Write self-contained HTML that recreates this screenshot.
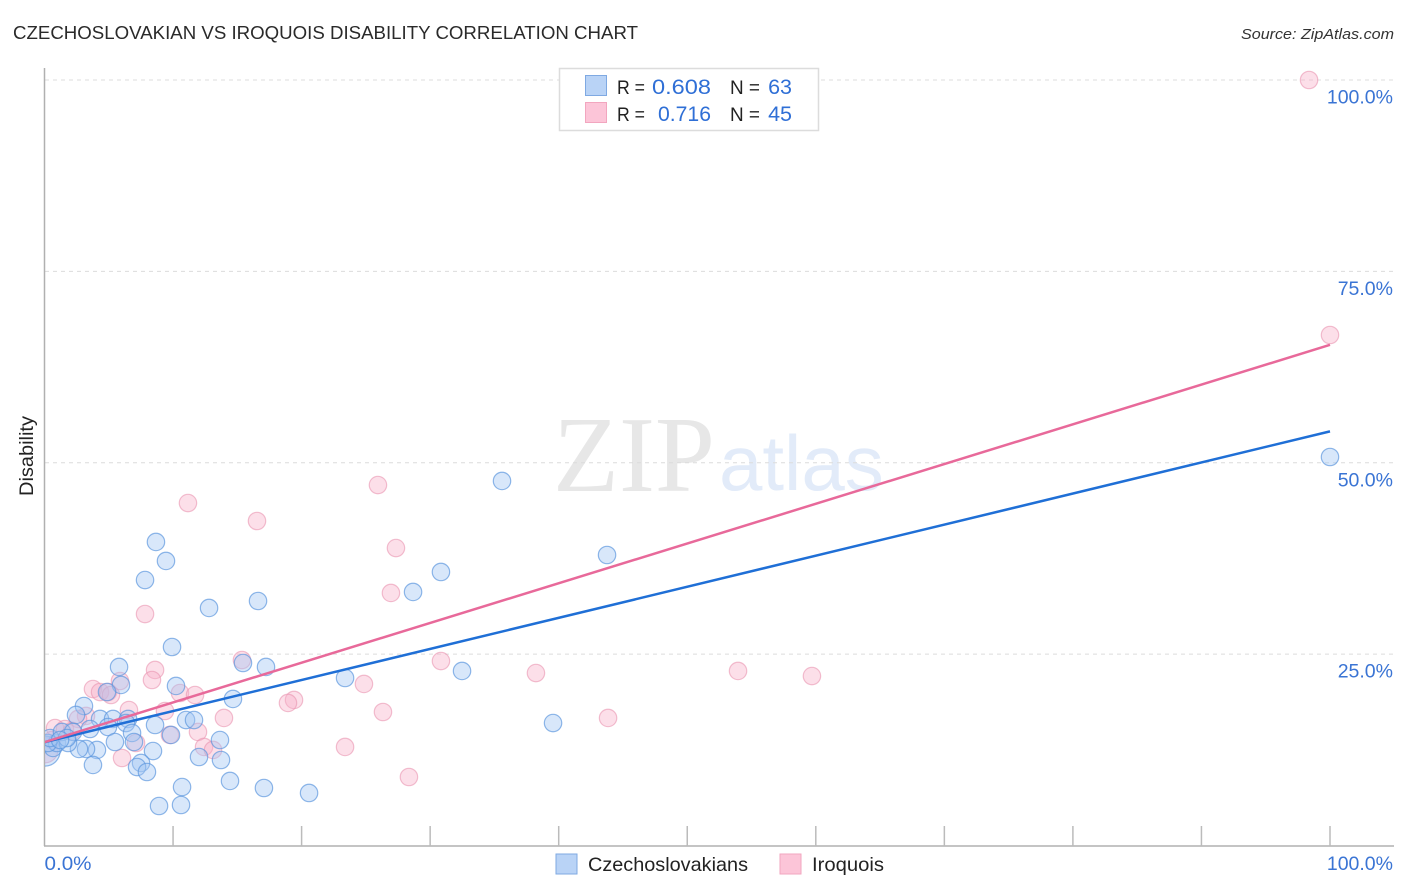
<!DOCTYPE html>
<html>
<head>
<meta charset="utf-8">
<title>Czechoslovakian vs Iroquois Disability Correlation Chart</title>
<style>
html,body{margin:0;padding:0;background:#fff;}
svg{display:block;}
text{font-family:"Liberation Sans",sans-serif;}
</style>
</head>
<body>
<svg id="chart" width="1406" height="892" viewBox="0 0 1406 892" xmlns="http://www.w3.org/2000/svg">
  <defs><clipPath id="plot-clip"><rect x="45" y="60" width="1361" height="786"/></clipPath></defs>
  <rect width="1406" height="892" fill="#fff"/>
  <text x="553" y="491" font-size="108" style="font-family:'Liberation Serif',serif" fill="#e7e7e7">ZIP</text>
  <text x="719" y="490" font-size="78" fill="#e2ebf9">atlas</text>
  <g id="grid"></g>
  <g id="axes"></g>
  <g id="iroquois-points" clip-path="url(#plot-clip)"></g>
  <g id="czech-points" clip-path="url(#plot-clip)"></g>
  <g id="trend-lines" clip-path="url(#plot-clip)"></g>
  <g id="labels"></g>

  <text x="13" y="39" font-size="18.5" fill="#2a2a2a" textLength="625" lengthAdjust="spacingAndGlyphs">CZECHOSLOVAKIAN VS IROQUOIS DISABILITY CORRELATION CHART</text>
  <text x="1394" y="39" font-size="15" font-style="italic" fill="#333" text-anchor="end" textLength="153" lengthAdjust="spacingAndGlyphs">Source: ZipAtlas.com</text>
  <text transform="translate(33,456) rotate(-90)" font-size="19.5" fill="#222" text-anchor="middle" textLength="80" lengthAdjust="spacingAndGlyphs">Disability</text>

  <g>
    <rect x="559.5" y="68.5" width="259" height="62" fill="#fff" stroke="#dcdcdc" stroke-width="1.5"/>
    <rect x="585.5" y="75.5" width="21" height="20" fill="#b9d3f6" stroke="#7fa9e2"/>
    <rect x="585.5" y="102.5" width="21" height="20" fill="#fcc5d8" stroke="#f2a6bf"/>
    <text x="617" y="94" font-size="19" fill="#222" textLength="28" lengthAdjust="spacingAndGlyphs">R =</text>
    <text x="652" y="94" font-size="21.5" fill="#2f6fd6" textLength="59" lengthAdjust="spacingAndGlyphs">0.608</text>
    <text x="730" y="94" font-size="19" fill="#222" textLength="30" lengthAdjust="spacingAndGlyphs">N =</text>
    <text x="792" y="94" font-size="21.5" fill="#2f6fd6" text-anchor="end">63</text>
    <text x="617" y="121" font-size="19" fill="#222" textLength="28" lengthAdjust="spacingAndGlyphs">R =</text>
    <text x="658" y="121" font-size="21.5" fill="#2f6fd6" textLength="53" lengthAdjust="spacingAndGlyphs">0.716</text>
    <text x="730" y="121" font-size="19" fill="#222" textLength="30" lengthAdjust="spacingAndGlyphs">N =</text>
    <text x="792" y="121" font-size="21.5" fill="#2f6fd6" text-anchor="end">45</text>
  </g>

  <g>
    <g>
      <rect x="556" y="854" width="21" height="20" fill="#b9d3f6" stroke="#7fa9e2"/>
      <text x="588" y="871" font-size="19.5" fill="#222" textLength="160" lengthAdjust="spacingAndGlyphs">Czechoslovakians</text>
    </g>
    <g>
      <rect x="780" y="854" width="21" height="20" fill="#fcc5d8" stroke="#f2a6bf"/>
      <text x="812" y="871" font-size="19.5" fill="#222" textLength="72" lengthAdjust="spacingAndGlyphs">Iroquois</text>
    </g>
  </g>
</svg>
<script>
const czechX = [100,35.59,43.76,30.84,28.67,8.67,9.45,7.82,12.80,16.61,9.92,5.80,5.95,4.86,10.23,15.44,17.23,23.38,32.48,39.56,14.66,3.07,2.45,4.32,5.33,6.50,6.34,8.60,11.01,11.63,3.54,4.94,6.81,5.48,6.96,9.84,13.65,8.44,12.02,13.73,4.08,3.23,2.68,3.77,7.51,7.20,7.97,14.43,17.07,20.58,10.70,10.62,8.91,0.04,0.66,0.97,0.27,0.43,1.83,1.36,2.22,1.75,1.21];
const czechY = [50.75,47.62,37.95,35.73,33.12,39.65,37.17,34.68,31.03,31.94,25.93,23.32,20.97,20.05,20.84,23.84,23.32,21.88,22.80,16.00,19.14,18.22,17.05,16.53,16.53,16.53,16.00,15.74,16.39,16.39,15.22,15.48,14.70,13.52,13.52,14.44,13.78,12.34,11.56,11.17,12.48,12.61,12.61,10.52,10.78,10.25,9.60,8.43,7.51,6.86,7.64,5.29,5.16,12.34,12.74,13.39,13.39,14.04,13.39,14.83,14.83,14.04,13.78];
const czechWeight = [1,1,1,1,1,1,1,1,1,1,1,1,1,1,1,1,1,1,1,1,1,1,1,1,1,1,1,1,1,1,1,1,1,1,1,1,1,1,1,1,1,1,1,1,1,1,1,1,1,1,1,1,1,3,1,1,1,1,1,1,1,1,1];
const iroquoisX = [98.37,100,25.94,11.16,16.53,27.34,26.95,7.82,15.36,30.84,38.23,53.95,59.70,8.60,8.36,5.87,3.77,4.32,4.94,5.17,10.54,11.71,24.85,19.41,18.94,26.33,43.84,13.96,9.37,6.57,3.23,2.61,11.94,9.76,12.41,13.11,23.38,28.35,6.03,7.12,0.82,1.59,2.14,0.04,0.58];
const iroquoisY = [100,66.69,47.09,44.74,42.39,38.86,32.99,30.24,24.23,24.10,22.53,22.80,22.14,22.93,21.62,21.49,20.44,20.05,20.05,19.66,19.92,19.66,21.10,19.01,18.62,17.44,16.66,16.66,17.57,17.70,16.92,16.53,14.83,14.44,12.87,12.48,12.87,8.95,11.43,13.39,15.35,15.22,14.96,12.48,13.78];
const iroquoisWeight = [1,1,1,1,1,1,1,1,1,1,1,1,1,1,1,1,1,1,1,1,1,1,1,1,1,1,1,1,1,1,1,1,1,1,1,1,1,1,1,1,1,1,1,2.2,1];
const czechTrend = [13.5,54.1];
const iroquoisTrend = [13.5,65.4];
const trendX = [0,100];
const yTicks = [100,75,50,25];
const yTickLabels = ['100.0%','75.0%','50.0%','25.0%'];
const xTicks = [0,10,20,30,40,50,60,70,80,90,100];
const xEndLabels = ['0.0%','100.0%'];

const NS = 'http://www.w3.org/2000/svg';
function sx(v){ return 44.5 + v * 12.855; }
function sy(v){ return 845.5 - v * 7.655; }
function rs(w){ return 8.7 * Math.sqrt(w); }
function make(tag, parent, attrs){
  const el = document.createElementNS(NS, tag);
  for (const k in attrs) el.setAttribute(k, attrs[k]);
  document.getElementById(parent).appendChild(el);
  return el;
}

yTicks.forEach(function(t, i){
  const ln = make('line', 'grid', {x1:45, x2:1394, y1:sy(t), y2:sy(t), stroke:'#dcdcdc', 'stroke-width':1, 'stroke-dasharray':'4 4'});
  
  
  const lb = make('text', 'labels', {x:1393, y:sy(t) + 23.5, 'font-size':19.5, fill:'#3a74d4', 'text-anchor':'end'});
  lb.textContent = yTickLabels[i];
  
  
});

const yAxis = make('line', 'axes', {x1:44.5, x2:44.5, y1:68, y2:846, stroke:'#b0b0b0', 'stroke-width':1.5});


const xAxis = make('line', 'axes', {x1:44, x2:1394, y1:846, y2:846, stroke:'#b0b0b0', 'stroke-width':1.5});


xTicks.slice(1).forEach(function(t){
  const tk = make('line', 'axes', {x1:sx(t), x2:sx(t), y1:826, y2:846, stroke:'#bbb', 'stroke-width':1.5});
  
  
});

const x0Label = make('text', 'labels', {x:sx(0), y:870, 'font-size':19.5, fill:'#3a74d4', textLength:47, lengthAdjust:'spacingAndGlyphs'});
x0Label.textContent = xEndLabels[0];


const x100Label = make('text', 'labels', {x:1393, y:870, 'font-size':19.5, fill:'#3a74d4', 'text-anchor':'end'});
x100Label.textContent = xEndLabels[1];



iroquoisX.forEach(function(v, i){
  const c = make('circle', 'iroquois-points', {cx:sx(v), cy:sy(iroquoisY[i]), r:rs(iroquoisWeight[i]), fill:'#f8aec7', 'fill-opacity':0.4, stroke:'#e995b1', 'stroke-opacity':0.6, 'stroke-width':1.2});
  
  
});
czechX.forEach(function(v, i){
  const c = make('circle', 'czech-points', {cx:sx(v), cy:sy(czechY[i]), r:rs(czechWeight[i]), fill:'#a3c6f2', 'fill-opacity':0.42, stroke:'#5a95dd', 'stroke-opacity':0.68, 'stroke-width':1.2});
  
  
});

const czechLine = make('line', 'trend-lines', {x1:sx(trendX[0]), y1:sy(czechTrend[0]), x2:sx(trendX[1]), y2:sy(czechTrend[1]), stroke:'#1f6fd6', 'stroke-width':2.5});


const iroquoisLine = make('line', 'trend-lines', {x1:sx(trendX[0]), y1:sy(iroquoisTrend[0]), x2:sx(trendX[1]), y2:sy(iroquoisTrend[1]), stroke:'#e8699a', 'stroke-width':2.5});


</script>
</body>
</html>
